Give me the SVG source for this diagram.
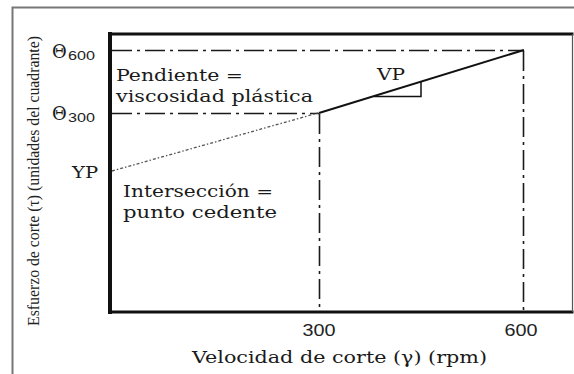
<svg xmlns="http://www.w3.org/2000/svg" width="574" height="374" viewBox="0 0 574 374">
<style>
  .t { font-family: "DejaVu Serif", "Liberation Serif", serif; fill: #1a1a1a; }
  .s { font-family: "Liberation Sans", Arial, sans-serif; fill: #222; }
  .dd { fill: none; stroke: #1a1a1a; stroke-width: 1.6; stroke-dasharray: 20 5 3 5; }
  .ax { fill: none; stroke: #111; stroke-linecap: square; }
</style>
<rect width="574" height="374" fill="#fff"/>
<g id="frame">
  <path d="M12.5,374 V7.5 H574" fill="none" stroke="#777" stroke-width="2"/>
</g>
<g id="axes">
  <line class="ax" x1="110" y1="34" x2="110" y2="312" stroke-width="4"/>
  <line class="ax" x1="110" y1="34" x2="572" y2="34" stroke-width="3"/>
  <line class="ax" x1="110" y1="312" x2="572" y2="312" stroke-width="3"/>
  <line x1="572.5" y1="34" x2="572.5" y2="312" stroke="#555" stroke-width="1.2"/>
</g>
<g id="connectors">
  <line class="dd" x1="112" y1="50.5" x2="523" y2="50.5"/>
  <line class="dd" x1="112" y1="113.5" x2="319" y2="113.5"/>
  <line class="dd" x1="319.5" y1="114" x2="319.5" y2="311"/>
  <line class="dd" x1="523.5" y1="51" x2="523.5" y2="311"/>
  <line x1="112" y1="171" x2="318" y2="113" stroke="#555" stroke-width="1.3" stroke-dasharray="3 2 1.5 2"/>
  <line x1="319" y1="113" x2="524" y2="50" stroke="#111" stroke-width="2"/>
  <polyline points="374,96.5 421,96.5 421,81" fill="none" stroke="#111" stroke-width="1.5"/>
</g>
<g id="ylabel">
  <text transform="translate(39,181) rotate(-90)" text-anchor="middle" style="font-family:'Liberation Serif',serif;fill:#222" font-size="17.5" textLength="290" lengthAdjust="spacingAndGlyphs">Esfuerzo de corte (τ) (unidades del cuadrante)</text>
</g>
<g id="theta600">
  <text class="t" x="52" y="58" font-size="18">Θ</text>
  <text class="s" x="68" y="60" font-size="13" textLength="27" lengthAdjust="spacingAndGlyphs">600</text>
</g>
<g id="theta300">
  <text class="t" x="52" y="120" font-size="18">Θ</text>
  <text class="s" x="68" y="122" font-size="13" textLength="27" lengthAdjust="spacingAndGlyphs">300</text>
</g>
<g id="yp">
  <text class="t" x="72" y="178" font-size="16" textLength="26" lengthAdjust="spacingAndGlyphs">YP</text>
</g>
<g id="pendiente">
  <text class="t" x="116" y="81" font-size="16" textLength="127" lengthAdjust="spacingAndGlyphs">Pendiente =</text>
  <text class="t" x="116" y="102" font-size="16" textLength="197" lengthAdjust="spacingAndGlyphs">viscosidad plástica</text>
</g>
<g id="vp">
  <text class="t" x="377" y="80" font-size="16" textLength="28" lengthAdjust="spacingAndGlyphs">VP</text>
</g>
<g id="interseccion">
  <text class="t" x="123" y="197" font-size="16" textLength="150" lengthAdjust="spacingAndGlyphs">Intersección =</text>
  <text class="t" x="123" y="218" font-size="16" textLength="154" lengthAdjust="spacingAndGlyphs">punto cedente</text>
</g>
<g id="xticks">
  <text class="s" x="319" y="336" font-size="17" text-anchor="middle" textLength="33" lengthAdjust="spacingAndGlyphs">300</text>
  <text class="s" x="521" y="336" font-size="17" text-anchor="middle" textLength="33" lengthAdjust="spacingAndGlyphs">600</text>
</g>
<g id="xlabel">
  <text class="t" x="192" y="363" font-size="16.5" textLength="295" lengthAdjust="spacingAndGlyphs">Velocidad de corte (γ) (rpm)</text>
</g>
</svg>
